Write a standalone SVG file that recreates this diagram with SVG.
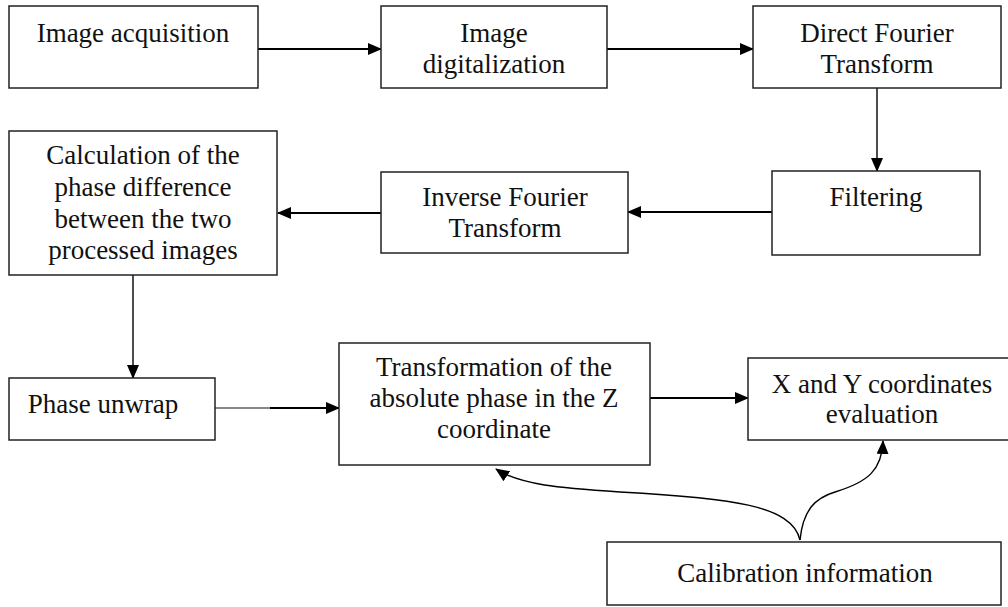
<svg xmlns="http://www.w3.org/2000/svg" width="1008" height="607" viewBox="0 0 1008 607">
<style>
.box{fill:#fff;stroke:#222;stroke-width:1.5}
.t{font-family:"Liberation Serif","Times New Roman",serif;font-size:27px;fill:#111;text-anchor:middle}
.c{fill:none;stroke:#000;stroke-width:2}
.c1{fill:none;stroke:#000;stroke-width:1.4}
</style>
<defs>
<marker id="ah2" markerWidth="14" markerHeight="12" refX="13" refY="6" orient="auto" markerUnits="userSpaceOnUse">
<path d="M0,0 L14,6 L0,12 z" fill="#000"/>
</marker>
</defs>
<rect width="1008" height="607" fill="#fff"/>
<g id="connectors">
<line class="c" x1="258" y1="49" x2="381" y2="49" marker-end="url(#ah2)"/>
<line class="c" x1="607" y1="49" x2="753" y2="49" marker-end="url(#ah2)"/>
<line class="c1" x1="877" y1="88" x2="877" y2="171" marker-end="url(#ah2)"/>
<line class="c" x1="772" y1="212" x2="628" y2="212" marker-end="url(#ah2)"/>
<line class="c" x1="381" y1="213" x2="278" y2="213" marker-end="url(#ah2)"/>
<line class="c1" x1="133" y1="275" x2="133" y2="378" marker-end="url(#ah2)"/>
<line x1="215" y1="408" x2="272" y2="408" stroke="#888" stroke-width="2"/>
<line class="c" x1="270" y1="408" x2="339" y2="408" stroke="#555" marker-end="url(#ah2)"/>
<line class="c" x1="650" y1="398" x2="748" y2="398" marker-end="url(#ah2)"/>
<path class="c1" d="M800,540 C792,505 730,498 620,492 C560,488 520,485 496,469" marker-end="url(#ah2)"/>
<path class="c1" d="M800,540 C803,510 815,498 835,492 C868,482 882,470 883,441" marker-end="url(#ah2)"/>
</g>
<g id="n1"><rect class="box" x="9" y="6" width="249" height="82"/><text class="t" x="133" y="42">Image acquisition</text></g>
<g id="n2"><rect class="box" x="381" y="6" width="226" height="82"/><text class="t" x="494" y="42">Image</text><text class="t" x="494" y="73">digitalization</text></g>
<g id="n3"><rect class="box" x="753" y="6" width="248" height="82"/><text class="t" x="877" y="42">Direct Fourier</text><text class="t" x="877" y="73">Transform</text></g>
<g id="n4"><rect class="box" x="772" y="171" width="208" height="84"/><text class="t" x="876" y="206">Filtering</text></g>
<g id="n5"><rect class="box" x="381" y="172" width="247" height="81"/><text class="t" x="505" y="206">Inverse Fourier</text><text class="t" x="505" y="237">Transform</text></g>
<g id="n6"><rect class="box" x="9" y="131" width="268" height="144"/><text class="t" x="143" y="164">Calculation of the</text><text class="t" x="143" y="196">phase difference</text><text class="t" x="143" y="228">between the two</text><text class="t" x="143" y="259">processed images</text></g>
<g id="n7"><rect class="box" x="9" y="378" width="206" height="62"/><text class="t" x="103" y="413">Phase unwrap</text></g>
<g id="n8"><rect class="box" x="339" y="343" width="311" height="122"/><text class="t" x="494" y="376">Transformation of the</text><text class="t" x="494" y="407">absolute phase in the Z</text><text class="t" x="494" y="438">coordinate</text></g>
<g id="n9"><rect class="box" x="748" y="358" width="264" height="82"/><text class="t" x="882" y="393">X and Y coordinates</text><text class="t" x="882" y="423">evaluation</text></g>
<g id="n10"><rect class="box" x="607" y="542" width="394" height="63"/><text class="t" x="805" y="582">Calibration information</text></g>
</svg>
